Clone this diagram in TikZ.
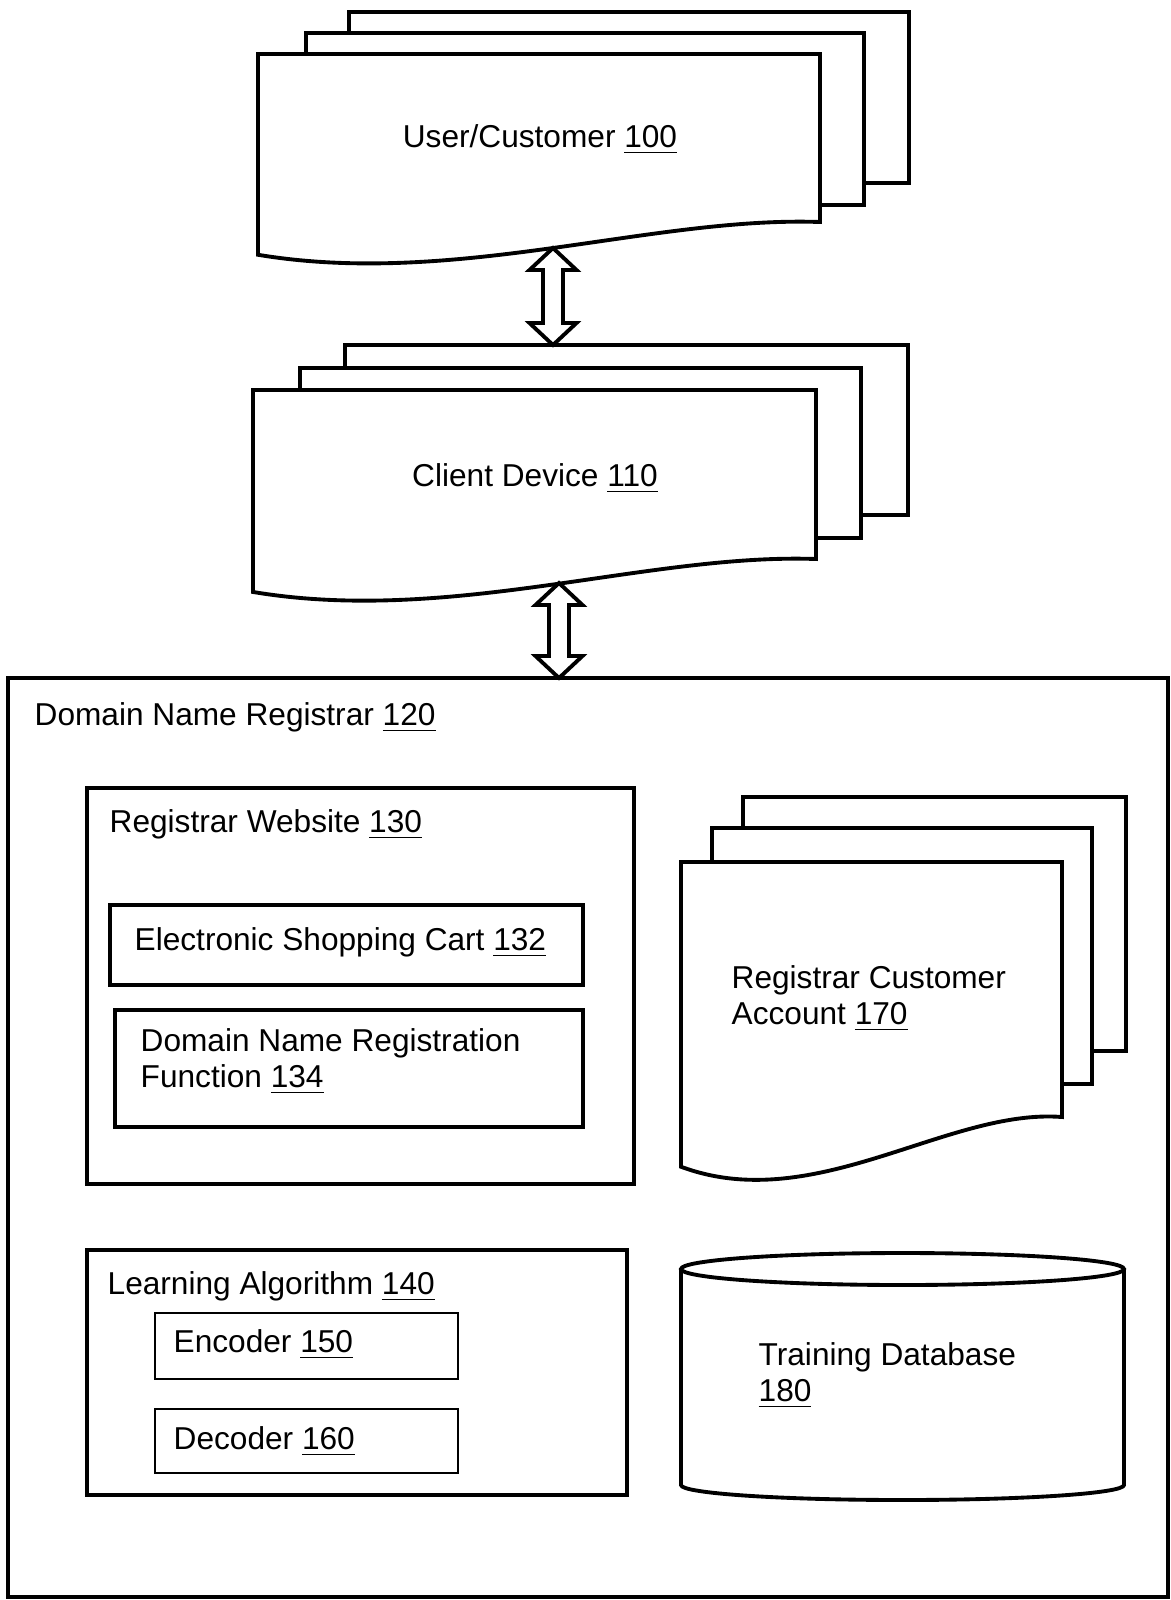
\documentclass[tikz,border=0pt]{standalone}
\usepackage{fontspec}
\setmainfont{Liberation Sans}
\usetikzlibrary{calc}

% stacked page: left, top, right, bottom (right side); wavy lower edge
\newcommand{\docsheet}[4]{%
\draw [sheet] ({#1},{#2}) -- ({#3},{#2}) -- ({#3},{#4})
  .. controls ({#1+0.7*(#3-#1)},{#4-0.035*(#4-#2)}) and ({#1+0.35*(#3-#1)},{#4+0.39*(#4-#2)}) .. ({#1},{#4+0.195*(#4-#2)}) -- cycle;}

% hollow double arrow from (#1) down to (#2)
\newcommand{\dblarrow}[2]{%
\draw [hollowarrow] (#1) -- ($(#1)+(23.5,22)$) -- ($(#1)+(10,22)$) -- ($(#2)+(10,-22)$) -- ($(#2)+(23.5,-22)$)
  -- (#2) -- ($(#2)+(-23.5,-22)$) -- ($(#2)+(-10,-22)$) -- ($(#1)+(-10,22)$) -- ($(#1)+(-23.5,22)$) -- cycle;}

\begin{document}
\begin{tikzpicture}[x=0.1mm,y=-0.1mm,
  sheet/.style={line width=1.1pt, fill=white, line join=miter},
  box/.style={line width=1.1pt},
  thinbox/.style={line width=0.4pt},
  hollowarrow/.style={line width=1.1pt, fill=white, line join=miter},
  lbl/.style={anchor=base west, inner sep=0pt, align=left, font=\fontsize{9}{10.2}\selectfont},
  ctr/.style={anchor=base, inner sep=0pt, font=\fontsize{9}{10.2}\selectfont}]
\useasboundingbox (0,0) rectangle (1171,1600);

% user / customer
\draw [sheet] (349,12) rectangle (909,183);
\draw [sheet] (306,33) rectangle (864,205);
\docsheet{258}{54}{820}{222}
\node [ctr] (user) at (540,147) {User/Customer \underline{100}};

% client device
\draw [sheet] (345,345) rectangle (908,515);
\draw [sheet] (300,368) rectangle (861,538);
\docsheet{253}{390}{816}{559}
\node [ctr] (client) at (535,486) {Client Device \underline{110}};

\coordinate (userbot) at (553,248);
\coordinate (clienttop) at (553,345);
\coordinate (clientbot) at (559,583);
\coordinate (regtop) at (559,678);
\dblarrow{userbot}{clienttop}
\dblarrow{clientbot}{regtop}

% registrar
\draw [box] (8,678) rectangle (1168,1597);
\node [lbl] (registrar) at (34,725) {Domain Name Registrar \underline{120}};

\draw [box] (87,788) rectangle (634,1184);
\node [lbl] (website) at (109,832) {Registrar Website \underline{130}};
\draw [box] (110,905) rectangle (583,985);
\node [lbl] (cart) at (134,950) {Electronic Shopping Cart \underline{132}};
\draw [box] (115,1010) rectangle (583,1127);
\node [lbl] (regfunc) at (140,1087) {Domain Name Registration\\Function \underline{134}};

\draw [box] (87,1250) rectangle (627,1495);
\node [lbl] (learning) at (107,1294) {Learning Algorithm \underline{140}};
\draw [thinbox] (155,1313) rectangle (458,1379);
\node [lbl] (encoder) at (173,1352) {Encoder \underline{150}};
\draw [thinbox] (155,1409) rectangle (458,1473);
\node [lbl] (decoder) at (173,1449) {Decoder \underline{160}};

% customer account
\draw [sheet] (743,797) rectangle (1126,1051);
\draw [sheet] (712,828) rectangle (1092,1084);
\docsheet{681}{862}{1062}{1117}
\node [lbl] (account) at (731,1024) {Registrar Customer\\Account \underline{170}};

% training database
\draw [box] (681,1269) -- (681,1485) arc [start angle=180, end angle=0, x radius=221.5, y radius=15] -- (1124,1269);
\draw [box] (902.5,1269) ellipse [x radius=221.5, y radius=16];
\node [lbl] (training) at (758,1401) {Training Database\\\underline{180}};

\end{tikzpicture}
\end{document}
